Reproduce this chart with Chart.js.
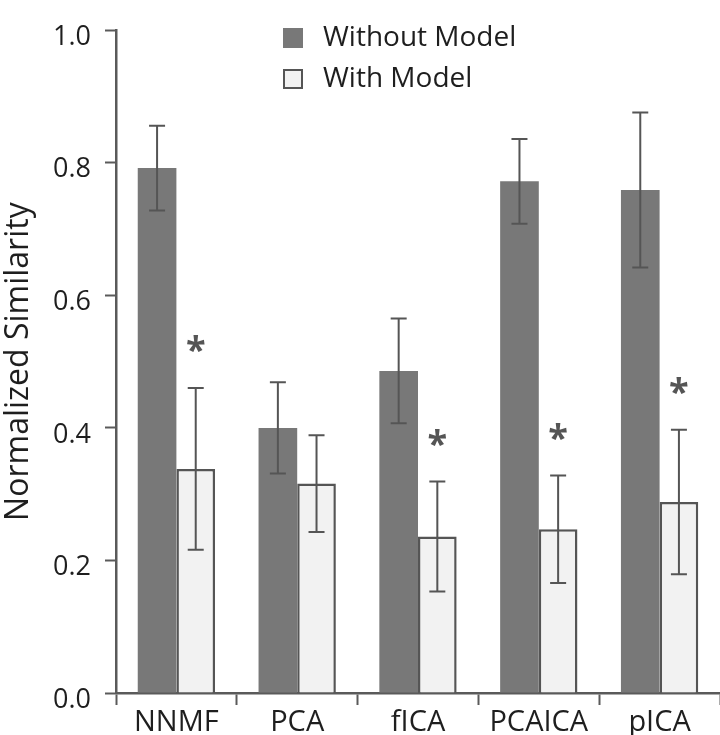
<!DOCTYPE html>
<html>
<head>
<meta charset="utf-8">
<script src="https://cdn.jsdelivr.net/npm/chart.js@4/dist/chart.umd.min.js"></script>
<style>
  html, body { margin: 0; padding: 0; background: #fff; }
  #wrap { width: 720px; height: 735px; }
</style>
</head>
<body>
<div id="wrap"><canvas id="chart" width="720" height="735"></canvas></div>
<script>
// Data
const methods = ["NNMF", "PCA", "fICA", "PCAICA", "pICA"];
const withoutModel = [0.792, 0.400, 0.486, 0.772, 0.759];
const withoutErr = [0.064, 0.069, 0.079, 0.064, 0.117];
const withModel = [0.338, 0.316, 0.236, 0.247, 0.288];
const withErr = [0.122, 0.073, 0.083, 0.081, 0.109];
const significant = [true, false, true, true, true];
const yTicks = [0, 0.2, 0.4, 0.6, 0.8, 1.0];

const FONT = "'Open Sans', 'DejaVu Sans', sans-serif";
const axisColor = "#5a5a5a";
const textColor = "#1e1e1e";

// Error bars, asterisks and the legend are drawn on top of the bars
const extrasPlugin = {
  id: "extras",
  afterDatasetsDraw(chart) {
    const c = chart.ctx;
    const y = chart.scales.y;
    const errs = [withoutErr, withErr];
    c.save();
    c.strokeStyle = "#555555";
    c.lineWidth = 2;
    chart.data.datasets.forEach((ds, i) => {
      chart.getDatasetMeta(i).data.forEach((bar, j) => {
        const v = ds.data[j];
        const top = y.getPixelForValue(v + errs[i][j]);
        const bot = y.getPixelForValue(v - errs[i][j]);
        c.beginPath();
        c.moveTo(bar.x, top); c.lineTo(bar.x, bot);
        c.moveTo(bar.x - 8, top); c.lineTo(bar.x + 8, top);
        c.moveTo(bar.x - 8, bot); c.lineTo(bar.x + 8, bot);
        c.stroke();
        if (i === 1 && significant[j]) {
          c.fillStyle = "#555555";
          c.font = "bold 36px " + FONT;
          c.textAlign = "center";
          c.textBaseline = "middle";
          c.fillText("*", bar.x, top - 36);
        }
      });
    });
    // legend
    c.font = "28px " + FONT;
    c.textAlign = "left";
    c.textBaseline = "middle";
    chart.data.datasets.forEach((ds, i) => {
      const by = 28 + i * 41;
      c.fillStyle = ds.backgroundColor;
      c.fillRect(283, by, 20, 20);
      if (ds.borderWidth) {
        c.strokeStyle = ds.borderColor;
        c.lineWidth = 2;
        c.strokeRect(284, by + 1, 18, 18);
      }
      c.fillStyle = textColor;
      c.fillText(ds.label, 323, by + 10);
    });
    c.restore();
  }
};

new Chart(document.getElementById("chart"), {
  type: "bar",
  data: {
    labels: methods,
    datasets: [
      {
        label: "Without Model",
        data: withoutModel,
        backgroundColor: "#787878",
        borderWidth: 0
      },
      {
        label: "With Model",
        data: withModel,
        backgroundColor: "#f2f2f2",
        borderColor: "#555555",
        borderWidth: 2.5,
        borderSkipped: "bottom"
      }
    ]
  },
  options: {
    responsive: false,
    animation: false,
    layout: { padding: { top: 6, right: 0, left: 0, bottom: 0 } },
    datasets: { bar: { categoryPercentage: 0.64, barPercentage: 1.0 } },
    plugins: { legend: { display: false }, tooltip: { enabled: false } },
    scales: {
      x: {
        offset: true,
        grid: { offset: true, drawOnChartArea: false, drawTicks: true, tickLength: 12, tickColor: axisColor, tickWidth: 2 },
        border: { color: axisColor, width: 2.5 },
        ticks: { color: textColor, font: { family: FONT, size: 29 }, padding: 0, maxRotation: 0 },
        afterFit(s) { s.height = 42; }
      },
      y: {
        min: 0,
        max: 1.0,
        afterBuildTicks(s) { s.ticks = yTicks.map(v => ({ value: v })); },
        grid: { drawOnChartArea: false, drawTicks: true, tickLength: 11, tickColor: axisColor, tickWidth: 2 },
        border: { color: axisColor, width: 2.5 },
        ticks: {
          color: textColor,
          font: { family: FONT, size: 27 },
          padding: 14,
          labelOffset: 7,
          callback: v => v.toFixed(1)
        },
        title: {
          display: true,
          text: "Normalized Similarity",
          color: textColor,
          font: { family: FONT, size: 32 },
          padding: { top: 0, bottom: 6 }
        },
        afterFit(s) { s.width = 116; }
      }
    }
  },
  plugins: [extrasPlugin]
});
</script>
</body>
</html>
